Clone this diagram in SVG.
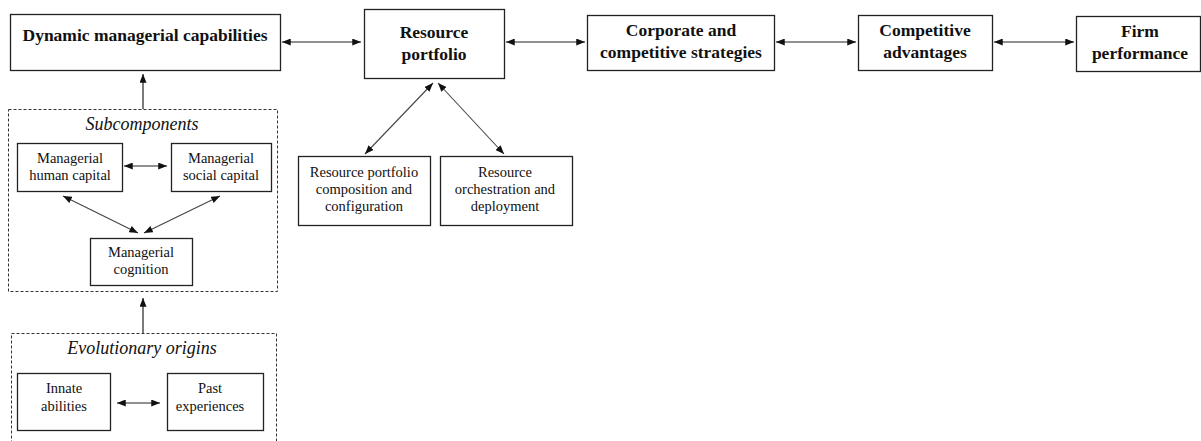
<svg xmlns="http://www.w3.org/2000/svg" width="1201" height="441" viewBox="0 0 1201 441">
  <style>
    .box { fill: #fff; stroke: #222; stroke-width: 1.3; }
    .group { fill: none; stroke: #333; stroke-width: 1; stroke-dasharray: 3 2; }
    text { font-family: 'Liberation Serif', 'Times New Roman', Times, 'DejaVu Serif', serif; fill: #111; text-anchor: middle; }
    .head { font-weight: bold; font-size: 17.5px; }
    .body { font-size: 14.5px; }
    .title { font-style: italic; font-size: 18px; }
    .link { fill: none; stroke: #222; stroke-width: 1.2; }
    .diag { fill: none; stroke: #444; stroke-width: 1.1; }
  </style>
  <defs>
    <marker id="tip" viewBox="0 0 10 8" refX="10" refY="4" markerWidth="9" markerHeight="7" markerUnits="userSpaceOnUse" orient="auto-start-reverse">
      <path d="M0,0 L10,4 L0,8 Z" fill="#111"/>
    </marker>
  </defs>
  <rect width="1201" height="441" fill="#fff"/>

  <!-- dashed groups -->
  <g id="subcomponents">
    <rect class="group" x="8.5" y="109.5" width="269" height="182"/>
    <text class="title" x="142" y="130">Subcomponents</text>
  </g>
  <g id="evolutionary-origins">
    <rect class="group" x="11.5" y="333.5" width="265" height="120"/>
    <text class="title" x="142" y="354">Evolutionary origins</text>
  </g>

  <!-- main chain -->
  <g id="dynamic-managerial-capabilities">
    <rect class="box" x="10.5" y="14.5" width="270" height="56"/>
    <text class="head" x="145" y="41">Dynamic managerial capabilities</text>
  </g>
  <g id="resource-portfolio">
    <rect class="box" x="364.5" y="9.5" width="140" height="69"/>
    <text class="head" x="434" y="38">Resource</text>
    <text class="head" x="434" y="60">portfolio</text>
  </g>
  <g id="strategies">
    <rect class="box" x="587.5" y="15.5" width="187" height="55"/>
    <text class="head" x="681" y="36">Corporate and</text>
    <text class="head" x="681" y="58">competitive strategies</text>
  </g>
  <g id="competitive-advantages">
    <rect class="box" x="858.5" y="15.5" width="134" height="55"/>
    <text class="head" x="925" y="36">Competitive</text>
    <text class="head" x="925" y="58">advantages</text>
  </g>
  <g id="firm-performance">
    <rect class="box" x="1076.5" y="16.5" width="124" height="55"/>
    <text class="head" x="1140" y="37">Firm</text>
    <text class="head" x="1140" y="59">performance</text>
  </g>

  <!-- resource portfolio facets -->
  <g id="composition">
    <rect class="box" x="298.5" y="156.5" width="132" height="69"/>
    <text class="body" x="364" y="177">Resource portfolio</text>
    <text class="body" x="364" y="194">composition and</text>
    <text class="body" x="364" y="211">configuration</text>
  </g>
  <g id="orchestration">
    <rect class="box" x="440.5" y="156.5" width="132" height="69"/>
    <text class="body" x="505" y="177">Resource</text>
    <text class="body" x="505" y="194">orchestration and</text>
    <text class="body" x="505" y="211">deployment</text>
  </g>

  <!-- subcomponents -->
  <g id="human-capital">
    <rect class="box" x="17.5" y="143.5" width="105" height="48"/>
    <text class="body" x="70" y="163">Managerial</text>
    <text class="body" x="70" y="180">human capital</text>
  </g>
  <g id="social-capital">
    <rect class="box" x="171.5" y="143.5" width="100" height="48"/>
    <text class="body" x="221" y="163">Managerial</text>
    <text class="body" x="221" y="180">social capital</text>
  </g>
  <g id="cognition">
    <rect class="box" x="90.5" y="238.5" width="102" height="47"/>
    <text class="body" x="141" y="257">Managerial</text>
    <text class="body" x="141" y="274">cognition</text>
  </g>

  <!-- evolutionary origins -->
  <g id="innate-abilities">
    <rect class="box" x="17.5" y="373.5" width="93" height="57"/>
    <text class="body" x="64" y="393">Innate</text>
    <text class="body" x="64" y="411">abilities</text>
  </g>
  <g id="past-experiences">
    <rect class="box" x="167.5" y="373.5" width="96" height="57"/>
    <text class="body" x="210" y="393">Past</text>
    <text class="body" x="210" y="411">experiences</text>
  </g>

  <!-- connectors -->
  <g id="connectors">
    <line class="link" x1="282" y1="42" x2="361" y2="42" marker-start="url(#tip)" marker-end="url(#tip)"/>
    <line class="link" x1="506" y1="42" x2="585" y2="42" marker-start="url(#tip)" marker-end="url(#tip)"/>
    <line class="link" x1="776" y1="42" x2="856" y2="42" marker-start="url(#tip)" marker-end="url(#tip)"/>
    <line class="link" x1="994" y1="42" x2="1074" y2="42" marker-start="url(#tip)" marker-end="url(#tip)"/>
    <line class="link" x1="143" y1="109" x2="143" y2="74" marker-end="url(#tip)"/>
    <line class="link" x1="143" y1="333" x2="143" y2="298" marker-end="url(#tip)"/>
    <line class="diag" x1="433" y1="83" x2="365" y2="154" marker-start="url(#tip)" marker-end="url(#tip)"/>
    <line class="diag" x1="438" y1="83" x2="504" y2="154" marker-start="url(#tip)" marker-end="url(#tip)"/>
    <line class="link" x1="124" y1="166" x2="167" y2="166" marker-start="url(#tip)" marker-end="url(#tip)"/>
    <line class="diag" x1="63" y1="196" x2="138" y2="233" marker-start="url(#tip)" marker-end="url(#tip)"/>
    <line class="diag" x1="220" y1="196" x2="144" y2="233" marker-start="url(#tip)" marker-end="url(#tip)"/>
    <line class="link" x1="117" y1="403" x2="160" y2="403" marker-start="url(#tip)" marker-end="url(#tip)"/>
  </g>
</svg>
